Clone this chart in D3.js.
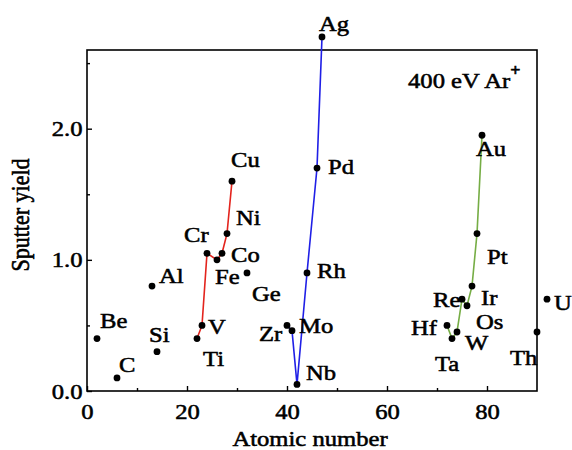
<!DOCTYPE html>
<html>
<head>
<meta charset="utf-8">
<script src="https://cdn.jsdelivr.net/npm/d3@7/dist/d3.min.js"></script>
<style>
  html, body { margin: 0; padding: 0; background: #fff; }
  svg { display: block; }
  text { font-family: "Liberation Serif", "Times New Roman", serif; fill: #000; stroke: #000; stroke-width: 0.55px; }
</style>
</head>
<body>
<svg id="chart" width="572" height="450"></svg>
<script>
// Sputter yield of elements under 400 eV Ar+ bombardment
const elements = ["Be","C","Al","Si","Ti","V","Cr","Fe","Co","Ni","Cu","Ge","Zr","Mo","Nb","Rh","Pd","Ag","Hf","Ta","W","Re","Os","Ir","Pt","Au","Th","U"];
const atomicNumbers = [2,6,13,14,22,23,24,26,27,28,29,32,40,41,42,44,46,47,72,73,74,75,76,77,78,79,90,92];
const yields = [0.40,0.10,0.80,0.30,0.40,0.50,1.05,1.00,1.05,1.20,1.60,0.90,0.50,0.46,0.05,0.90,1.70,2.70,0.50,0.40,0.45,0.70,0.65,0.80,1.20,1.95,0.45,0.70];

// transition-metal rows joined by lines
const row3d = ["Ti","V","Cr","Fe","Co","Ni","Cu"];
const row4d = ["Zr","Mo","Nb","Rh","Pd","Ag"];
const row5d = ["Hf","Ta","W","Re","Os","Ir","Pt","Au"];

const xMajorTicks = [0,20,40,60,80];
const xMinorTicks = [10,30,50,70];
const yMajorTicks = [0,1,2];
const yMajorLabels = ["0.0","1.0","2.0"];
const yMinorTicks = [0.5,1.5,2.5];

const xTitle = "Atomic number";
const yTitle = "Sputter yield";
const noteText = "400 eV Ar";
const noteSup = "+";

// ---- layout ----
const W = 572, H = 450;
const plot = { left: 87, right: 537, top: 50, bottom: 391 };
const fontSize = 22;
const SX = 1.12; // glyphs are drawn slightly wide

// label placement (pixel offsets from each point: left edge, baseline)
const labelOffset = {
  Be:[3,-11], C:[2,-6], Al:[7,-3], Si:[-8,-10], Ti:[6,27], V:[6,9], Cr:[-23,-11],
  Fe:[-2,24], Co:[9,9], Ni:[9,-9], Cu:[-1,-14], Ge:[5,28], Zr:[-28,16], Mo:[7,2],
  Nb:[9,-4], Rh:[10,5], Pd:[11,6], Ag:[-3,-6], Hf:[-36,10], Ta:[-17,32], W:[8,18],
  Re:[-29,8], Os:[9,23], Ir:[9,19], Pt:[10,30], Au:[-6,21], Th:[-27,33], U:[7,11]
};

const svg = d3.select("#chart");

const x = d3.scaleLinear().domain([0, 90]).range([plot.left, plot.right]);
const y = d3.scaleLinear().domain([0, 2.6]).range([plot.bottom, plot.top]);

const points = elements.map((e, i) => ({ name: e, z: atomicNumbers[i], v: yields[i] }));
const byName = new Map(points.map(p => [p.name, p]));

// frame
svg.append("rect")
  .attr("x", plot.left).attr("y", plot.top)
  .attr("width", plot.right - plot.left).attr("height", plot.bottom - plot.top)
  .attr("fill", "none").attr("stroke", "#000").attr("stroke-width", 1.6);

function styleAxis(g) {
  g.select(".domain").remove();
  g.selectAll(".tick line").attr("stroke", "#000").attr("stroke-width", 1.4);
  g.selectAll(".tick text")
    .attr("font-size", fontSize)
    .attr("font-family", "Liberation Serif, Times New Roman, serif")
    .attr("fill", "#000");
}

// x axis
svg.append("g")
  .attr("transform", `translate(0,${plot.bottom})`)
  .call(d3.axisBottom(x).tickValues(xMajorTicks).tickSize(-5).tickSizeOuter(0).tickPadding(12).tickFormat(d3.format("d")))
  .call(styleAxis)
  .call(g => g.selectAll(".tick text").attr("transform", `scale(${SX},1)`));
svg.append("g")
  .attr("transform", `translate(0,${plot.bottom})`)
  .call(d3.axisBottom(x).tickValues(xMinorTicks).tickSize(-3).tickSizeOuter(0).tickFormat(""))
  .call(styleAxis);

// y axis
svg.append("g")
  .attr("transform", `translate(${plot.left},0)`)
  .call(d3.axisLeft(y).tickValues(yMajorTicks).tickSize(-5).tickSizeOuter(0).tickPadding(4)
    .tickFormat((d, i) => yMajorLabels[i]))
  .call(styleAxis)
  .call(g => g.selectAll(".tick text").attr("transform", `scale(${SX},1)`));
svg.append("g")
  .attr("transform", `translate(${plot.left},0)`)
  .call(d3.axisLeft(y).tickValues(yMinorTicks).tickSize(-3).tickSizeOuter(0).tickFormat(""))
  .call(styleAxis);

// axis titles
svg.append("text")
  .attr("transform", `translate(${(plot.left + plot.right) / 2 - 2},446) scale(${SX},1)`)
  .attr("text-anchor", "middle")
  .attr("font-size", fontSize)
  .text(xTitle);

svg.append("text")
  .attr("transform", `translate(29,215) rotate(-90) scale(1,${SX})`)
  .attr("text-anchor", "middle")
  .attr("font-size", fontSize)
  .text(yTitle);

// connecting lines
const line = d3.line().x(d => x(d.z)).y(d => y(d.v));
const rows = [
  { names: row3d, color: "#e3241d" },
  { names: row4d, color: "#1f1fe6" },
  { names: row5d, color: "#76ad45" }
];
svg.append("g").selectAll("path")
  .data(rows)
  .join("path")
  .attr("d", r => line(r.names.map(n => byName.get(n))))
  .attr("fill", "none")
  .attr("stroke", r => r.color)
  .attr("stroke-width", 1.6);

// data points
svg.append("g").selectAll("circle")
  .data(points)
  .join("circle")
  .attr("cx", d => x(d.z))
  .attr("cy", d => y(d.v))
  .attr("r", 3.4)
  .attr("fill", "#000");

// element labels
svg.append("g").selectAll("text")
  .data(points)
  .join("text")
  .attr("transform", d => {
    const o = labelOffset[d.name] || [6, 0];
    return `translate(${x(d.z) + o[0]},${y(d.v) + o[1]}) scale(${SX},1)`;
  })
  .attr("font-size", fontSize)
  .text(d => d.name);

// beam annotation
const note = svg.append("text")
  .attr("transform", `translate(408,88) scale(${SX},1)`)
  .attr("font-size", fontSize);
note.append("tspan").text(noteText);
note.append("tspan").attr("dy", -12).attr("font-size", 16).attr("font-weight", "bold").text(noteSup);
</script>
</body>
</html>
